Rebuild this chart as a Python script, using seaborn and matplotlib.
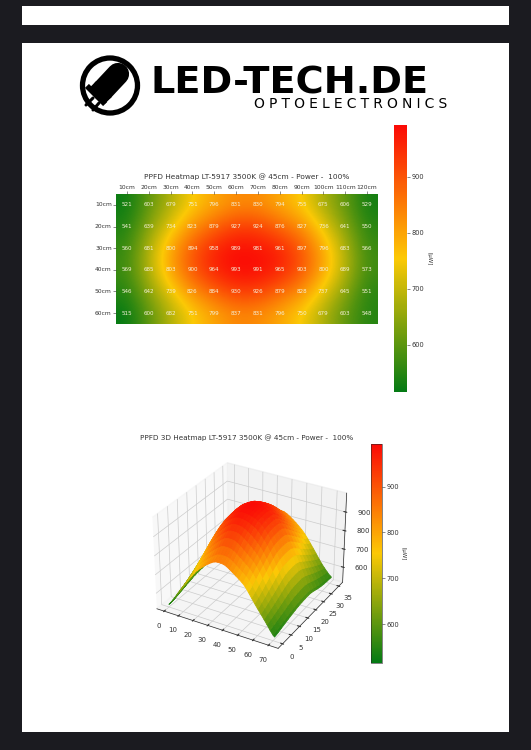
import numpy as np
import pandas as pd
import seaborn as sns
import matplotlib
matplotlib.use("Agg")
import matplotlib.pyplot as plt
from matplotlib.colors import LinearSegmentedColormap
from matplotlib.patches import Rectangle, Circle

rows = ["10cm", "20cm", "30cm", "40cm", "50cm", "60cm"]
cols = ["10cm", "20cm", "30cm", "40cm", "50cm", "60cm", "70cm", "80cm", "90cm", "100cm", "110cm", "120cm"]
row_10 = [521, 603, 679, 751, 796, 831, 830, 794, 755, 675, 606, 529]
row_20 = [541, 639, 734, 823, 879, 927, 924, 876, 827, 736, 641, 550]
row_30 = [560, 681, 800, 894, 958, 989, 981, 961, 897, 796, 683, 566]
row_40 = [569, 685, 803, 900, 964, 993, 991, 965, 903, 800, 689, 573]
row_50 = [546, 642, 739, 826, 884, 930, 926, 879, 828, 737, 645, 551]
row_60 = [515, 600, 682, 751, 799, 837, 831, 796, 750, 679, 603, 548]
title_2d = "PPFD Heatmap LT-5917 3500K @ 45cm - Power -  100%"
title_3d = "PPFD 3D Heatmap LT-5917 3500K @ 45cm - Power -  100%"
cbar_label = "[µW]"

W, H = 531, 750
BG = "#1b1b20"
TXT = "#333333"
cmap = LinearSegmentedColormap.from_list("gyr", ["#047a14", "#fcc905", "#fb0a06"])
df = pd.DataFrame([row_10, row_20, row_30, row_40, row_50, row_60], index=rows, columns=cols)
vals = df.values.astype(float)


def box(x0, y0, x1, y1):
    # pixels, measured from top left
    return [x0 / W, 1 - y1 / H, (x1 - x0) / W, (y1 - y0) / H]


def smooth(a, f=6):
    # resample the table only for drawing the surface (like ndimage.zoom)
    ny, nx = a.shape
    xi = np.linspace(0, nx - 1, nx * f)
    yi = np.linspace(0, ny - 1, ny * f)
    tmp = np.array([np.interp(xi, np.arange(nx), r) for r in a])
    out = np.array([np.interp(yi, np.arange(ny), c) for c in tmp.T]).T
    k = np.hanning(f + 3)[1:-1]
    k = k / k.sum()
    pad = len(k) // 2
    out = np.array([np.convolve(np.pad(r, pad, mode="edge"), k, "valid") for r in out])
    out = np.array([np.convolve(np.pad(c, pad, mode="edge"), k, "valid") for c in out.T]).T
    return out


sns.set_style("white")
fig = plt.figure(figsize=(W / 100, H / 100), dpi=100, facecolor=BG)

# white sheets behind the charts
fig.add_artist(Rectangle((22 / W, 1 - 25 / H), 487 / W, 19 / H, transform=fig.transFigure, color="white", lw=0, zorder=-5))
fig.add_artist(Rectangle((22 / W, 1 - 732 / H), 487 / W, 689 / H, transform=fig.transFigure, color="white", lw=0, zorder=-5))

# logo
logo = fig.add_axes([0, 0, 1, 1], facecolor="none")
logo.set_xlim(0, W)
logo.set_ylim(H, 0)
logo.axis("off")
logo.add_patch(Circle((110, 85.5), 27.5, fc="white", ec="black", lw=3.8))
logo.plot([103, 118], [90, 74], color="black", lw=16, solid_capstyle="round")
logo.plot([97, 104], [96, 89], color="black", lw=16, solid_capstyle="butt")
logo.plot([94, 98], [97, 93], color="black", lw=18.5, solid_capstyle="butt")
logo.plot([93, 86], [98, 105], color="black", lw=2.2)
logo.plot([99, 93], [103, 110], color="black", lw=2.2)
logo.text(150, 94, "LED-TECH.DE", fontsize=27.5, fontweight="bold", family="DejaVu Sans",
          color="black", ha="left", va="baseline")
logo.text(254, 108, "\u2009\u200a".join("OPTOELECTRONICS"), fontsize=10, family="DejaVu Sans",
          color="black", ha="left", va="baseline")

# 2D heatmap
ax = fig.add_axes(box(116, 194, 378, 324))
cax = fig.add_axes(box(394, 125, 407, 392))
sns.heatmap(df, ax=ax, cbar_ax=cax, cmap=cmap, annot=True, fmt="d",
            annot_kws={"fontsize": 4.1, "color": "#f4f0d8"})
ax.imshow(vals, cmap=cmap, interpolation="bicubic", aspect="auto", extent=(0, 12, 6, 0),
          vmin=vals.min(), vmax=vals.max(), zorder=0.5)
ax.collections[0].set_visible(False)
ax.set_xlim(0, 12)
ax.set_ylim(6, 0)
ax.xaxis.tick_top()
ax.tick_params(axis="both", labelsize=4.3, length=2, width=0.4, pad=1, colors=TXT, left=True, top=True, bottom=False)
plt.setp(ax.get_yticklabels(), rotation=0)
plt.setp(ax.get_xticklabels(), rotation=0)
ax.set_title(title_2d, fontsize=5.3, pad=10.5, color=TXT)
cax.tick_params(labelsize=4.8, length=2, width=0.4, pad=1.5, right=True, colors=TXT)
cax.set_ylabel(cbar_label, fontsize=4, rotation=270, labelpad=5, color=TXT)

# 3D surface
ax3 = fig.add_axes(box(134, 446, 363, 662), projection="3d", facecolor="none")
Z = smooth(vals)
X, Y = np.meshgrid(np.arange(Z.shape[1]), np.arange(Z.shape[0]))
surf = ax3.plot_surface(X, Y, Z, cmap=cmap, rstride=2, cstride=2, linewidth=0.6, antialiased=True,
                        vmin=vals.min(), vmax=vals.max())
# edges in the face colour, otherwise the white shows through the seams
surf.set_edgecolor(surf.to_rgba(surf.get_array()))
ax3.set_xticks(np.arange(0, 71, 10))
ax3.set_yticks(np.arange(0, 36, 5))
ax3.set_zticks([600, 700, 800, 900])
ax3.tick_params(labelsize=5, pad=-2, colors=TXT)
ax3.tick_params(axis="z", pad=0)
for a in (ax3.xaxis, ax3.yaxis, ax3.zaxis):
    a._axinfo["grid"]["linewidth"] = 0.5
    a._axinfo["tick"]["inward_factor"] = 0.1
    a._axinfo["tick"]["outward_factor"] = 0.2
    a.line.set_linewidth(0.5)
fig.text(247 / W, 1 - 438 / H, title_3d, fontsize=5.2, ha="center", va="center", color=TXT)
cax2 = fig.add_axes(box(371, 444, 382, 663))
cb2 = fig.colorbar(surf, cax=cax2)
cb2.outline.set_linewidth(0.4)
cb2.set_ticks([600, 700, 800, 900])
cax2.tick_params(labelsize=4.8, length=2, width=0.4, pad=1.5, colors=TXT)
cax2.set_ylabel(cbar_label, fontsize=4, rotation=270, labelpad=4, color=TXT)

fig.savefig("out.png", dpi=100, facecolor=BG)
